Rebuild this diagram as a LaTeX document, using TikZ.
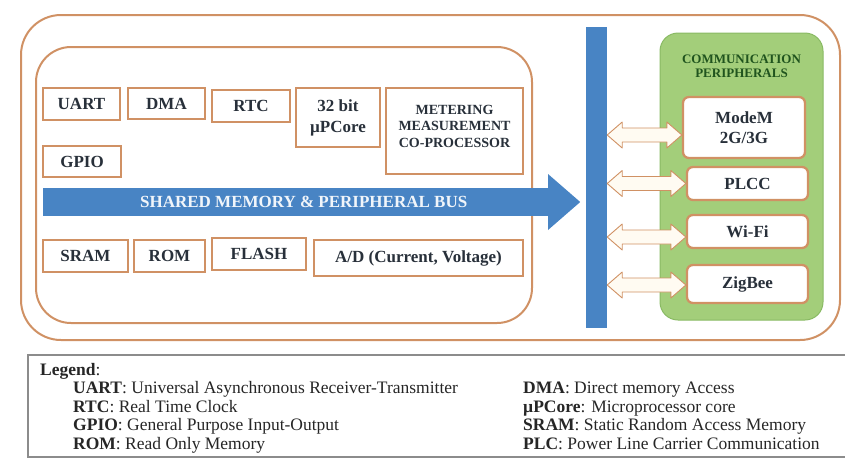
\documentclass[tikz,border=0pt]{standalone}
\usepackage{fontspec}
\setmainfont{Liberation Serif}
\usetikzlibrary{calc, shapes.arrows, positioning}
\definecolor{edgeorange}{RGB}{208,145,100}
\definecolor{busblue}{RGB}{72,132,196}
\definecolor{commgreen}{RGB}{163,206,122}
\definecolor{commedge}{RGB}{137,186,100}
\definecolor{titlegreen}{RGB}{32,84,30}
\definecolor{arrowfill}{RGB}{255,251,242}
\definecolor{labelgray}{RGB}{40,48,58}

\begin{document}
\begin{tikzpicture}[x=1pt, y=-1pt,
    unit/.style={
        draw=edgeorange,
        line width=2.3pt,
        fill=white,
        inner sep=2pt,
        align=center,
        text=labelgray,
        font=\fontsize{17}{20}\selectfont\bfseries
      },
    peri/.style={unit, rounded corners=6pt, minimum width=121pt},
    linkarrow/.style={draw=edgeorange, line width=0.9pt, fill=arrowfill, line join=round},
    legtext/.style={anchor=base west, inner sep=0pt, text=black!85, font=\fontsize{17.5}{19}\selectfont}]
    \useasboundingbox (0,0) rectangle (845,459);
    \draw[edgeorange, line width=2pt, rounded corners=40pt] (21,15) rectangle (840,340);
    \draw[edgeorange, line width=2pt, rounded corners=35pt] (36,47) rectangle (532,323);
    \node[unit, minimum width=77pt, minimum height=32pt] (uart) at (81.5,104) {UART};
    \node[unit, minimum width=77pt, minimum height=31pt] (dma) at (166.5,103.5) {DMA};
    \node[unit, minimum width=78pt, minimum height=32pt] (rtc) at (251,106) {RTC};
    \node[unit, minimum width=84pt, minimum height=59pt, font=\fontsize{17}{21}\selectfont\bfseries] (core) at (338,117.5) {32 bit\\µPCore};
    \node[unit, minimum width=137pt, minimum height=86pt, text depth=10pt,
      font=\fontsize{14}{16.5}\selectfont\bfseries] (meter) at (454.5,131) {METERING\\MEASUREMENT\\CO-PROCESSOR};
    \node[unit, minimum width=78pt, minimum height=31pt] (gpio) at (82,161.5) {GPIO};
    \node[single arrow, fill=busblue, anchor=west, minimum height=537pt, minimum width=56pt,
      single arrow head extend=13pt, single arrow tip angle=82, inner ysep=7pt,
      text=white!92!busblue, font=\fontsize{17}{19}\selectfont\bfseries] (bus) at (43,202) {SHARED MEMORY \& PERIPHERAL BUS};
    \node[unit, minimum width=85pt, minimum height=32pt] (sram) at (85.5,256) {SRAM};
    \node[unit, minimum width=71pt, minimum height=32pt] (rom) at (169.5,256) {ROM};
    \node[unit, minimum width=94pt, minimum height=32pt] (flash) at (259,254) {FLASH};
    \node[unit, minimum width=209pt, minimum height=36pt] (adc) at (418.5,258) {A/D (Current, Voltage)};
    \node[fill=busblue, minimum width=21pt, minimum height=301pt, inner sep=0pt] (bar) at (596.5,177.5) {};
    \node[draw=commedge, line width=1pt, fill=commgreen, rounded corners=18pt,
      minimum width=163pt, minimum height=287pt] (comm) at (741.5,176.5) {};
    \node[below=19pt of comm.north, align=center, text=titlegreen,
      font=\fontsize{13}{13.5}\selectfont\bfseries] (commtitle) {COMMUNICATION\\PERIPHERALS};
    \node[peri, minimum width=122pt, minimum height=61pt] (modem) at (744,127.5) {ModeM\\2G/3G};
    \node[peri, minimum height=33pt] (plcc) at (747.5,183.5) {PLCC};
    \node[peri, minimum height=33pt] (wifi) at (747.5,231.5) {Wi-Fi};
    \node[peri, minimum height=38pt] (zigbee) at (747.5,284) {ZigBee};
    \foreach \b/\dy in {modem/7.5, plcc/0, wifi/5.5, zigbee/1}
      \draw[linkarrow] let \p1 = (bar.east), \p2 = ($(\b.west)+(0,\dy)$) in
        (\x1,\y2) -- ++(15pt,13pt) -- ++(0pt,-6pt) -- (\x2-15pt,\y2+7pt) -- ++(0pt,6pt) -- (\x2,\y2)
        -- ++(-15pt,-13pt) -- ++(0pt,6pt) -- (\x1+15pt,\y2-7pt) -- ++(0pt,-6pt) -- cycle;
    \draw[black!45, line width=1.2pt] (28,355) rectangle (850,457);
    \node[legtext] (legend) at (40,375) {\textbf{Legend}:};
    \foreach \k/\t [count=\i] in {UART/Universal Asynchronous Receiver-Transmitter, RTC/Real Time Clock,
        GPIO/General Purpose Input-Output, ROM/Read Only Memory}
      \node[legtext] (leg l\i) at (73,{375+18.5*\i}) {\textbf{\k}: \t};
    \foreach \k/\t [count=\i] in {DMA/Direct memory Access, µPCore/Microprocessor core,
        SRAM/Static Random Access Memory, PLC/Power Line Carrier Communication}
      \node[legtext] (leg r\i) at (523,{375+18.5*\i}) {\textbf{\k}: \t};
  \end{tikzpicture}
\end{document}
